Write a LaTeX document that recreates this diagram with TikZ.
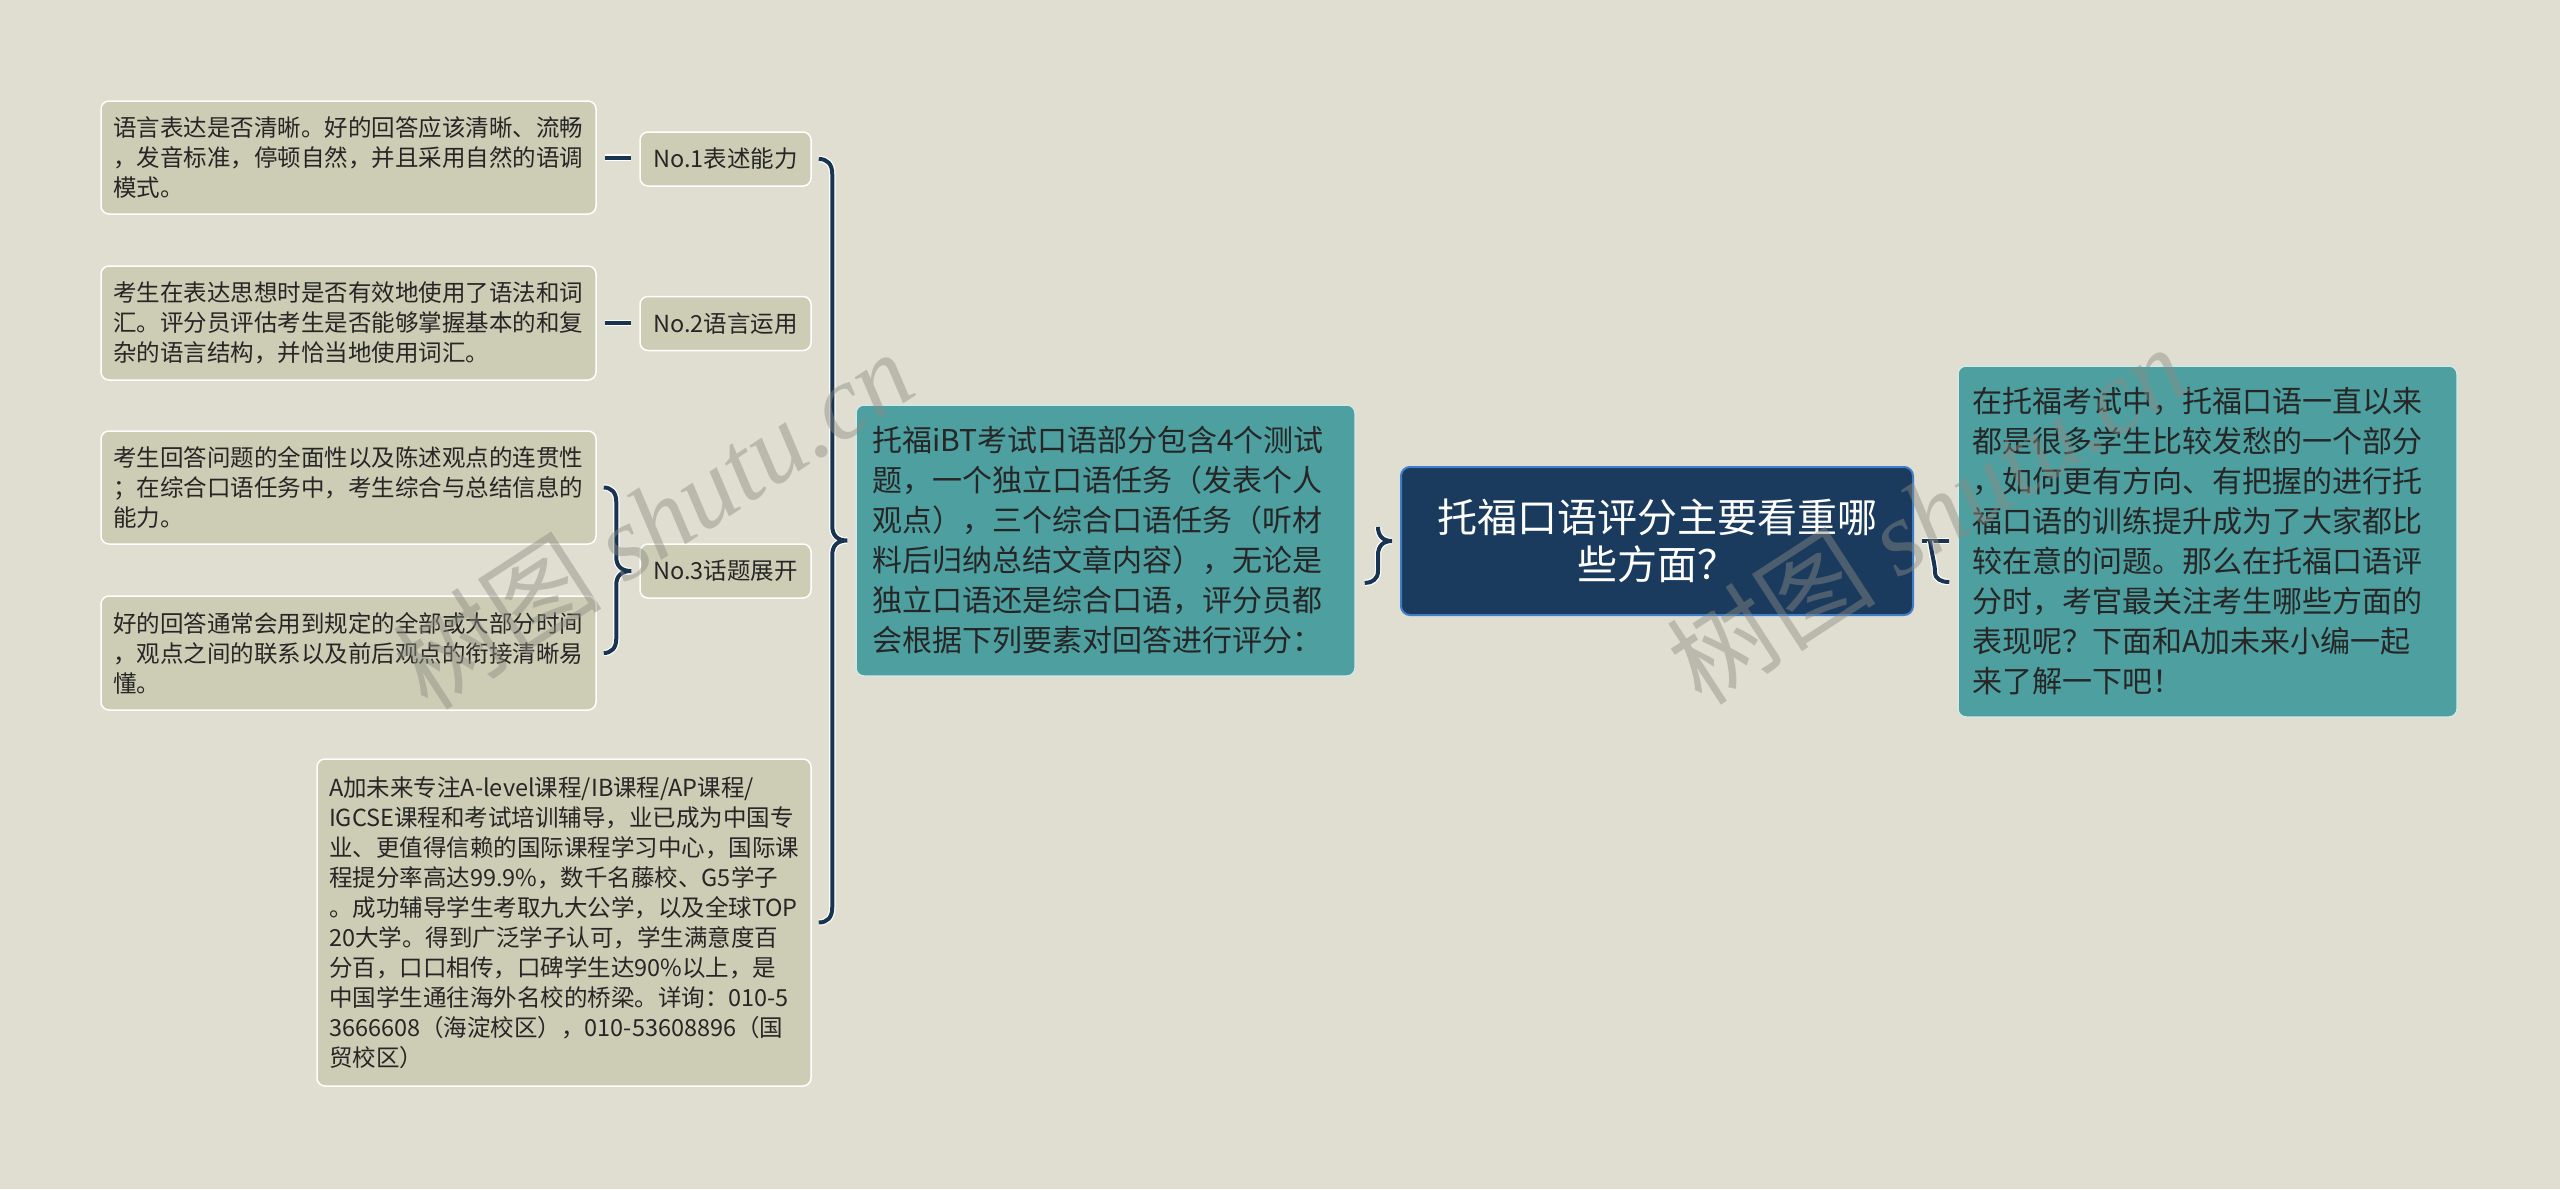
\documentclass[tikz,border=0pt]{standalone}
\usepackage{fontspec}
\newfontfamily\cjk{Noto Sans CJK SC}
\newfontfamily\wmserif{Liberation Serif}
\usetikzlibrary{calc}
\definecolor{bgc}{RGB}{223,222,208}
\definecolor{leafc}{RGB}{205,204,181}
\definecolor{tealc}{RGB}{78,159,160}
\definecolor{rootc}{RGB}{26,59,93}
\definecolor{rootb}{RGB}{61,125,201}
\definecolor{navy}{RGB}{24,52,80}
\definecolor{txt}{RGB}{38,38,38}
\definecolor{wmc}{RGB}{140,140,132}
\tikzset{
  leaf/.style={draw=white, line width=1.5pt, fill=leafc, rounded corners=8pt, text=txt,
    font=\cjk\fontsize{23.5}{30}\selectfont, align=left, text width=471pt, inner xsep=12pt, inner ysep=0pt},
  tag/.style={draw=white, line width=1.5pt, fill=leafc, rounded corners=8pt, text=txt,
    font=\cjk\fontsize{23.5}{30}\selectfont, align=center, minimum width=171pt, minimum height=54pt, inner sep=0pt},
  tealbox/.style={draw=white!75!tealc, line width=1.5pt, fill=tealc, rounded corners=8pt, text=txt,
    font=\cjk\fontsize{30}{40}\selectfont, align=left, text width=467pt, inner xsep=16pt, inner ysep=0pt},
  rootbox/.style={draw=rootb, line width=2pt, fill=rootc, rounded corners=9pt, text=white,
    font=\cjk\fontsize{40}{47}\selectfont, align=center, minimum width=512pt, minimum height=148pt, inner sep=0pt},
  conn/.style={draw=navy, line width=4pt, preaction={draw=white, line width=6.5pt}},
  wm/.style={text=wmc, opacity=0.45, rotate=33, inner sep=0pt}
}
\begin{document}
\begin{tikzpicture}[x=1pt,y=-1pt]
\useasboundingbox (0,0) rectangle (2560,1189);
\fill[bgc] (0,0) rectangle (2560,1189);

% nodes
\node[rootbox] (root) at (1657,541) {托福口语评分主要看重哪\\些方面？};
\node[tealbox, minimum height=271pt] (M) at (1105.5,540.5) {托福iBT考试口语部分包含4个测试\\题，一个独立口语任务（发表个人\\观点），三个综合口语任务（听材\\料后归纳总结文章内容），无论是\\独立口语还是综合口语，评分员都\\会根据下列要素对回答进行评分：};
\node[tealbox, text width=471pt, inner xsep=14pt, minimum height=351pt] (R) at (2207.5,541.5) {在托福考试中，托福口语一直以来\\都是很多学生比较发愁的一个部分\\，如何更有方向、有把握的进行托\\福口语的训练提升成为了大家都比\\较在意的问题。那么在托福口语评\\分时，考官最关注考生哪些方面的\\表现呢？下面和A加未来小编一起\\来了解一下吧！};

\node[tag] (n1) at (725.5,159) {No.1表述能力};
\node[tag] (n2) at (725.5,323.5) {No.2语言运用};
\node[tag] (n3) at (725.5,571) {No.3话题展开};

\node[leaf, minimum height=113pt] (L1) at (348.5,157.5) {语言表达是否清晰。好的回答应该清晰、流畅\\，发音标准，停顿自然，并且采用自然的语调\\模式。};
\node[leaf, minimum height=114pt] (L2) at (348.5,323) {考生在表达思想时是否有效地使用了语法和词\\汇。评分员评估考生是否能够掌握基本的和复\\杂的语言结构，并恰当地使用词汇。};
\node[leaf, minimum height=113pt] (L3a) at (348.5,487.5) {考生回答问题的全面性以及陈述观点的连贯性\\；在综合口语任务中，考生综合与总结信息的\\能力。};
\node[leaf, minimum height=114pt] (L3b) at (348.5,653) {好的回答通常会用到规定的全部或大部分时间\\，观点之间的联系以及前后观点的衔接清晰易\\懂。};
\node[leaf, text width=470pt, minimum height=327pt] (L4) at (564,922.5) {A加未来专注A-level课程/IB课程/AP课程/\\IGCSE课程和考试培训辅导，业已成为中国专\\业、更值得信赖的国际课程学习中心，国际课\\程提分率高达99.9\%，数千名藤校、G5学子\\。成功辅导学生考取九大公学，以及全球TOP\\20大学。得到广泛学子认可，学生满意度百\\分百，口口相传，口碑学生达90\%以上，是\\中国学生通往海外名校的桥梁。详询：010-5\\3666608（海淀校区），010-53608896（国\\贸校区）};

% helper coordinates
\coordinate (bx) at ($(M.west)+(-23,0)$);
\coordinate (cx) at ($(n3.west)+(-23,0)$);
\coordinate (dx) at ($(root.west)+(-22,0)$);
\coordinate (ex) at ($(root.east)+(8,0)$);

% leaf to tag lines
\draw[conn] ($(L1.east)+(8,0)$) -- ($(L1.east -| n1.west)+(-8,0)$);
\draw[conn] ($(L2.east)+(8,0)$) -- ($(L2.east -| n2.west)+(-8,0)$);

% No.3 brace
\draw[conn] ($(L3a.east)+(7,0)$) .. controls ($(L3a.east -| cx)+(-5,0)$) and ($(L3a.east -| cx)+(0,5)$) .. ($(L3a.east -| cx)+(0,14)$)
  -- ($(cx)+(0,-14)$) .. controls ($(cx)+(0,-5)$) and ($(cx)+(5,0)$) .. ($(cx)+(15,0)$)
  .. controls ($(cx)+(5,0)$) and ($(cx)+(0,5)$) .. ($(cx)+(0,14)$)
  -- ($(L3b.east -| cx)+(0,-14)$) .. controls ($(L3b.east -| cx)+(0,-5)$) and ($(L3b.east -| cx)+(-5,0)$) .. ($(L3b.east)+(7,0)$);

% main left brace
\draw[conn] ($(n1.east)+(7,0)$) .. controls ($(n1.east -| bx)+(-5,0)$) and ($(n1.east -| bx)+(0,5)$) .. ($(n1.east -| bx)+(0,15)$)
  -- ($(bx)+(0,-15)$) .. controls ($(bx)+(0,-5)$) and ($(bx)+(5,0)$) .. ($(bx)+(15,0)$)
  .. controls ($(bx)+(5,0)$) and ($(bx)+(0,5)$) .. ($(bx)+(0,15)$)
  -- ($(L4.east -| bx)+(0,-15)$) .. controls ($(L4.east -| bx)+(0,-5)$) and ($(L4.east -| bx)+(-5,0)$) .. ($(L4.east)+(7,0)$);

% M to root
\draw[conn] ($(dx)+(0,-14)$) .. controls ($(dx)+(0,-5)$) and ($(dx)+(5,0)$) .. ($(dx)+(14,0)$)
  .. controls ($(dx)+(5,0)$) and ($(dx)+(0,5)$) .. ($(dx)+(0,14)$)
  -- ($(dx)+(0,30)$) .. controls ($(dx)+(0,38)$) and ($(dx)+(-6,42)$) .. ($(M.east |- dx)+(9,42)$);

% root to R
\draw[conn] (ex) -- ($(ex -| R.west)+(-8,0)$);
\draw[conn] ($(ex)+(8,0)$) .. controls ($(ex)+(10,14)$) and ($(ex)+(13,24)$) .. ($(ex)+(13,31)$)
  .. controls ($(ex)+(13,38)$) and ($(ex)+(19,41)$) .. ($(ex -| R.west)+(-8,41)$);

% watermarks
\node[wm] (wm1) at (653,519) {\cjk\fontsize{105}{105}\selectfont 树图 \wmserif\itshape shutu.cn};
\node[wm] (wm2) at (1927,514) {\cjk\fontsize{105}{105}\selectfont 树图 \wmserif\itshape shutu.cn};
\end{tikzpicture}
\end{document}
